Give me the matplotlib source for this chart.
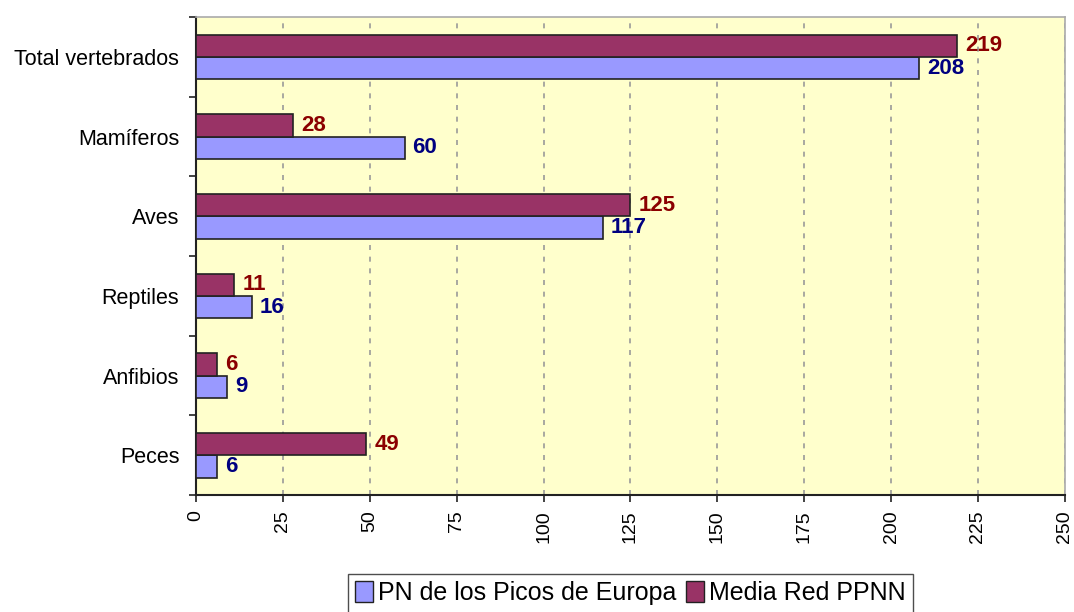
import matplotlib
matplotlib.use("Agg")
from matplotlib import pyplot as plt
from matplotlib.patches import Patch
import numpy as np

plt.rcParams['font.family'] = ['Liberation Sans', 'DejaVu Sans']

categorias = ["Peces", "Anfibios", "Reptiles", "Aves", "Mamíferos", "Total vertebrados"]
picos = [6, 9, 16, 117, 60, 208]
media_red = [49, 6, 11, 125, 28, 219]
serie_picos = "PN de los Picos de Europa"
serie_media = "Media Red PPNN"
xticks = [0, 25, 50, 75, 100, 125, 150, 175, 200, 225, 250]

color_picos = "#9999FF"
color_media = "#993366"

fig = plt.figure(figsize=(10.74, 6.12), dpi=100)
ax = fig.add_axes([0.1825, 0.191, 0.809, 0.781])
ax.set_facecolor("#FFFFCC")

y = np.arange(len(categorias))
h = 0.28
ax.barh(y - h / 2, picos, height=h, color=color_picos, edgecolor="#222222", linewidth=1.2, zorder=3)
ax.barh(y + h / 2, media_red, height=h, color=color_media, edgecolor="#222222", linewidth=1.2, zorder=3)

for yi, v in zip(y, picos):
    ax.text(v + 2.3, yi - h / 2, str(v), va="center", ha="left", fontsize=16,
            fontweight="bold", color="#000080", zorder=4)
for yi, v in zip(y, media_red):
    ax.text(v + 2.3, yi + h / 2, str(v), va="center", ha="left", fontsize=16,
            fontweight="bold", color="#8B0000", zorder=4)

ax.set_xlim(0, 250)
ax.set_ylim(-0.5, len(categorias) - 0.5)
ax.set_xticks(xticks)
ax.set_xticklabels([str(t) for t in xticks], rotation=90, fontsize=14)
ax.set_yticks(y)
ax.set_yticklabels(categorias, fontsize=15.5)
ax.set_yticks(np.arange(-0.5, len(categorias)), minor=True)
ax.tick_params(axis="y", which="major", length=0, pad=12)
ax.tick_params(axis="y", which="minor", length=5, width=1.2, color="#222222")
ax.tick_params(axis="x", length=5, width=1.2, color="#222222", pad=6)

ax.grid(axis="x", linestyle=(0, (3, 4)), color="#999999", linewidth=1.2, zorder=1)

for s in ["left", "bottom"]:
    ax.spines[s].set_color("#222222")
    ax.spines[s].set_linewidth(1.5)
for s in ["top", "right"]:
    ax.spines[s].set_color("#AAAAAA")
    ax.spines[s].set_linewidth(1.2)

handles = [Patch(facecolor=color_picos, edgecolor="#222222", label=serie_picos),
           Patch(facecolor=color_media, edgecolor="#222222", label=serie_media)]
fig.legend(handles=handles, loc="lower center", bbox_to_anchor=(0.587, -0.022), ncol=2,
           fontsize=18, frameon=True, fancybox=False, edgecolor="#222222",
           handlelength=0.7, handleheight=0.9, handletextpad=0.2, columnspacing=0.4,
           borderpad=0.3)

fig.savefig("out.png", dpi=100)
